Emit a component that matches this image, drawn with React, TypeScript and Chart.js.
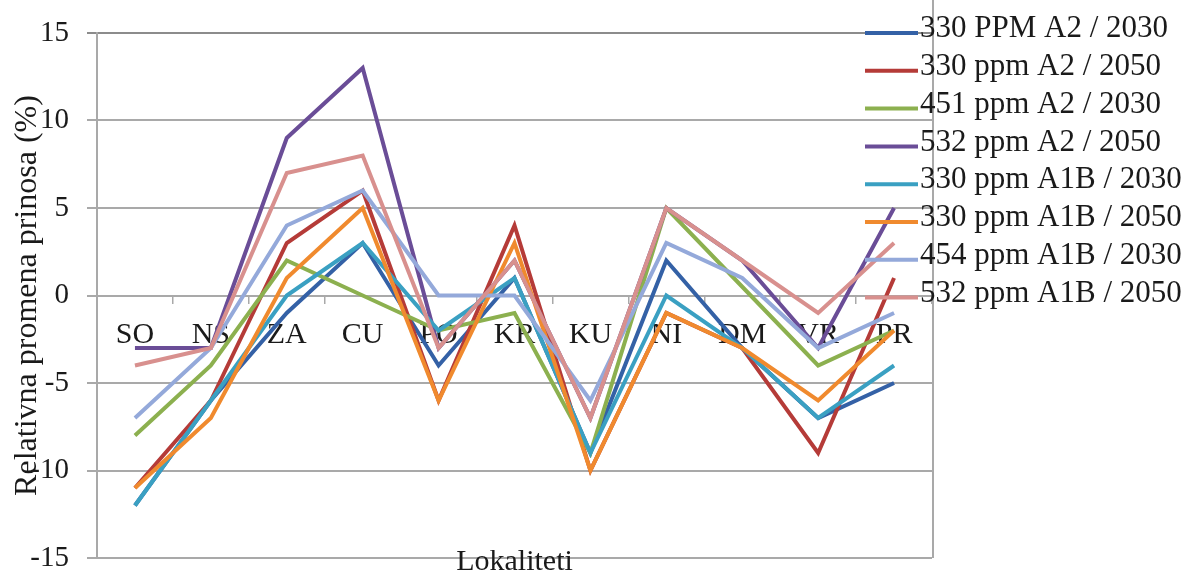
import React, { useEffect, useRef } from 'react';
import { Chart, registerables } from 'chart.js';

Chart.register(...registerables);

const categories = ['SO', 'NS', 'ZA', 'CU', 'PO', 'KR', 'KU', 'NI', 'DM', 'VR', 'PR'];

const seriesLabels = [
  '330 PPM A2 / 2030',
  '330 ppm A2 / 2050',
  '451 ppm A2 / 2030',
  '532 ppm A2 / 2050',
  '330 ppm A1B / 2030',
  '330 ppm A1B / 2050',
  '454 ppm A1B / 2030',
  '532 ppm A1B / 2050',
];

const ppm330A2_2030 = [-12, -6, -1, 3, -4, 1, -9, 2, -3, -7, -5];
const ppm330A2_2050 = [-11, -6, 3, 6, -6, 4, -10, -1, -3, -9, 1];
const ppm451A2_2030 = [-8, -4, 2, 0, -2, -1, -9, 5, 0.5, -4, -2];
const ppm532A2_2050 = [-3, -3, 9, 13, -3, 2, -7, 5, 2, -3, 5];
const ppm330A1B_2030 = [-12, -6, 0, 3, -2, 1, -9, 0, -3, -7, -4];
const ppm330A1B_2050 = [-11, -7, 1, 5, -6, 3, -10, -1, -3, -6, -2];
const ppm454A1B_2030 = [-7, -3, 4, 6, 0, 0, -6, 3, 1, -3, -1];
const ppm532A1B_2050 = [-4, -3, 7, 8, -3, 2, -7, 5, 2, -1, 3];

const seriesColors = [
  '#3461A6',
  '#B53B38',
  '#8CB04F',
  '#6A4D97',
  '#3AA0C2',
  '#F08A2E',
  '#94A9DA',
  '#D8908E',
];

const yTicks = [-15, -10, -5, 0, 5, 10, 15];

const FONT = '"Liberation Serif", "Times New Roman", serif';
const TEXT = '#1a1a1a';
const GRID = '#A9A9A9';

export default function App() {
  const ref = useRef<HTMLCanvasElement>(null);

  useEffect(() => {
    if (!ref.current) return;
    const values = [
      ppm330A2_2030,
      ppm330A2_2050,
      ppm451A2_2030,
      ppm532A2_2050,
      ppm330A1B_2030,
      ppm330A1B_2050,
      ppm454A1B_2030,
      ppm532A1B_2050,
    ];
    const datasets = seriesLabels.map((label, i) => ({
      label,
      data: values[i],
      borderColor: seriesColors[i],
      backgroundColor: seriesColors[i],
      borderWidth: 4,
      pointRadius: 0,
      tension: 0,
      fill: false,
      order: values.length - i,
    }));

    const overlay = {
      id: 'overlay',
      afterDraw(chart: any) {
        const ctx = chart.ctx;
        const area = chart.chartArea;
        ctx.save();
        // right plot border
        ctx.strokeStyle = GRID;
        ctx.lineWidth = 2;
        ctx.beginPath();
        ctx.moveTo(area.right + 1, 0);
        ctx.lineTo(area.right + 1, area.bottom);
        ctx.stroke();
        // x axis title
        ctx.fillStyle = TEXT;
        ctx.font = `30px ${FONT}`;
        ctx.textAlign = 'center';
        ctx.textBaseline = 'middle';
        ctx.fillText('Lokaliteti', (area.left + area.right) / 2, area.bottom + 4);
        // legend
        chart.data.datasets.forEach((ds: any, i: number) => {
          const y = 33 + i * 37.8;
          ctx.strokeStyle = ds.borderColor;
          ctx.lineWidth = 4;
          ctx.beginPath();
          ctx.moveTo(865, y);
          ctx.lineTo(918, y);
          ctx.stroke();
          ctx.font = `31px ${FONT}`;
          ctx.textAlign = 'left';
          ctx.textBaseline = 'middle';
          ctx.fillStyle = TEXT;
          ctx.fillText(ds.label, 920, y - 4);
        });
        ctx.restore();
      },
    };

    const chart = new Chart(ref.current, {
      type: 'line',
      data: { labels: categories, datasets },
      plugins: [overlay],
      options: {
        responsive: false,
        animation: false,
        devicePixelRatio: 1,
        layout: { padding: { left: 0, top: 33, right: 1195 - 932, bottom: 577 - 558 } },
        plugins: {
          legend: { display: false },
          tooltip: { enabled: false },
        },
        scales: {
          x: {
            type: 'category',
            position: { y: 0 } as any,
            offset: true,
            grid: {
              drawOnChartArea: false,
              offset: true,
              tickLength: 7,
              color: GRID,
              lineWidth: 1.5,
            },
            border: { color: GRID, width: 2 },
            ticks: {
              font: { family: FONT, size: 30 },
              color: TEXT,
              padding: 15,
              maxRotation: 0,
              autoSkip: false,
            },
            afterFit: (s: any) => {
              s.height = 0;
              s.paddingLeft = 0;
              s.paddingRight = 0;
              s.paddingTop = 0;
              s.paddingBottom = 0;
            },
          },
          y: {
            min: -15,
            max: 15,
            afterBuildTicks: (s: any) => {
              s.ticks = yTicks.map((v) => ({ value: v }));
            },
            ticks: {
              font: { family: FONT, size: 29 },
              color: TEXT,
              padding: 18,
            },
            grid: {
              color: (c: any) => (c.tick && c.tick.value === 15 ? '#8C8C8C' : GRID),
              lineWidth: 2,
              tickLength: 10,
            },
            border: { color: GRID, width: 2 },
            title: {
              display: true,
              text: 'Relativna promena prinosa (%)',
              font: { family: FONT, size: 32 },
              color: TEXT,
              padding: { top: 8, bottom: 0 },
            },
            afterFit: (s: any) => {
              s.width = 97;
              s.paddingTop = 0;
              s.paddingBottom = 0;
              s.paddingLeft = 0;
              s.paddingRight = 0;
            },
          },
        },
      } as any,
    });
    return () => chart.destroy();
  }, []);

  return (
    <div style={{ position: 'absolute', left: 0, top: 0, width: 1195, height: 577, background: '#fff' }}>
      <canvas ref={ref} width={1195} height={577} style={{ display: 'block', width: 1195, height: 577 }} />
    </div>
  );
}
